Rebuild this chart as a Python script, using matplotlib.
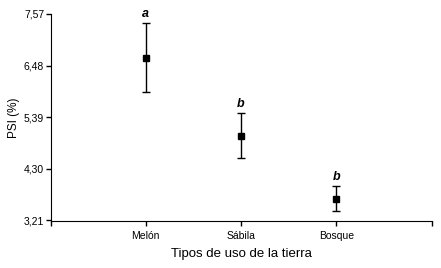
import numpy as np
from matplotlib import pyplot as plt

plt.rcParams['font.family'] = ['Liberation Sans', 'DejaVu Sans']

usos = ['Melón', 'Sábila', 'Bosque']
psi = [6.65, 5.00, 3.67]
err = [0.73, 0.48, 0.26]
letras = ['a', 'b', 'b']
yticks = [3.21, 4.30, 5.39, 6.48, 7.57]
yticklabels = ['3,21', '4,30', '5,39', '6,48', '7,57']

fig = plt.figure(figsize=(4.41, 2.68), dpi=100)
ax = fig.add_axes([50.5/441, 1-220.5/268, 381/441, 206.5/268])

x = np.arange(1, len(usos)+1)
ax.errorbar(x, psi, yerr=err, fmt='s', color='black', ecolor='black',
            markersize=4.3, capsize=2.6, elinewidth=1, capthick=1)
for xi, yi, e, l in zip(x, psi, err, letras):
    ax.annotate(l, (xi, yi+e), xytext=(0, 2.5), textcoords='offset points',
                ha='center', va='bottom', fontsize=9, fontweight='bold', style='italic')

ax.set_xlim(0, 4)
ax.set_ylim(3.21, 7.57)
ax.set_xticks([0, 1, 2, 3, 4])
ax.set_xticklabels([''] + usos + [''], fontsize=7.5)
ax.set_yticks(yticks)
ax.set_yticklabels(yticklabels, fontsize=7.5)
ax.tick_params(length=3.5, width=1, pad=1)
ax.tick_params(axis='x', pad=4)
ax.spines['top'].set_visible(False)
ax.spines['right'].set_visible(False)
ax.set_xlabel('Tipos de uso de la tierra', fontsize=9.5, labelpad=5)
ax.set_ylabel('PSI (%)', fontsize=8.5, labelpad=3)

plt.savefig('out.png', dpi=100)
